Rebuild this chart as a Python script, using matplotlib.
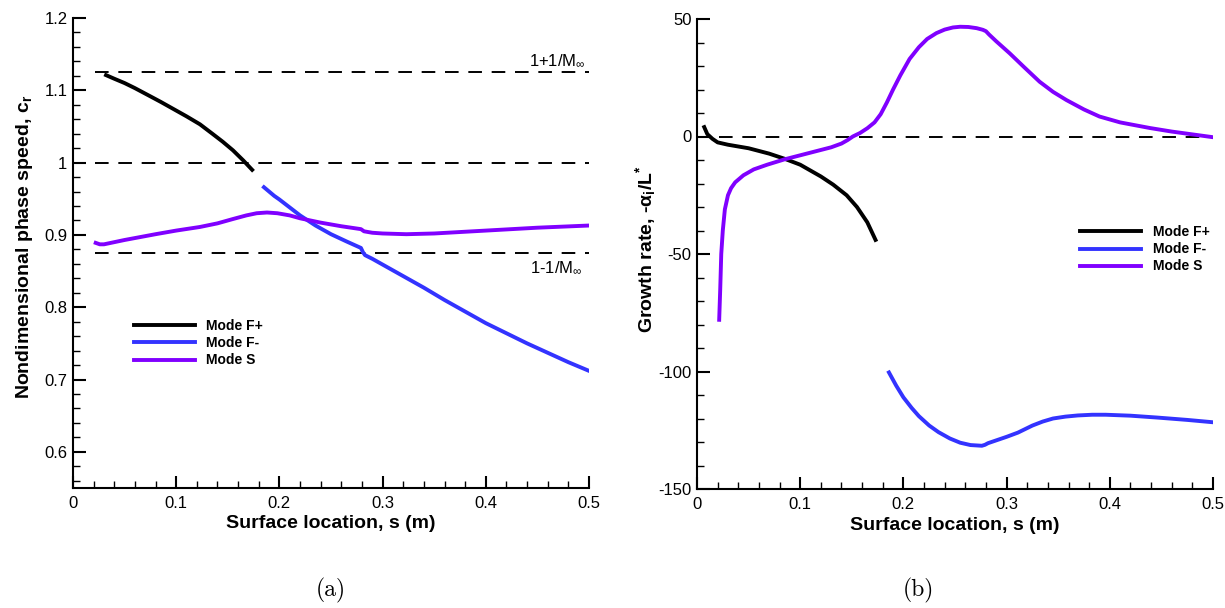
import matplotlib
matplotlib.use("Agg")
import matplotlib.pyplot as plt
from matplotlib.ticker import MultipleLocator, FuncFormatter

plt.rcParams['font.family'] = ['Liberation Sans', 'DejaVu Sans']
plt.rcParams['mathtext.fontset'] = 'custom'
plt.rcParams['mathtext.rm'] = 'Liberation Sans'
plt.rcParams['mathtext.it'] = 'Liberation Sans:italic'
plt.rcParams['mathtext.bf'] = 'Liberation Sans:bold'

# (a) phase speed
fp_s = [0.032, 0.04, 0.05, 0.06, 0.0745, 0.085, 0.1, 0.11, 0.123, 0.135, 0.145, 0.155, 0.165, 0.1736]
fp_c = [1.121, 1.116, 1.110, 1.103, 1.092, 1.084, 1.072, 1.064, 1.053, 1.040, 1.029, 1.017, 1.003, 0.990]

fm_s = [0.185, 0.19, 0.195, 0.2, 0.21, 0.22, 0.235, 0.25, 0.265, 0.279, 0.281, 0.283, 0.29, 0.3,
        0.32, 0.34, 0.36, 0.38, 0.4, 0.42, 0.44, 0.46, 0.48, 0.5]
fm_c = [0.966, 0.960, 0.954, 0.949, 0.938, 0.927, 0.913, 0.901, 0.891, 0.882, 0.876, 0.872, 0.867, 0.859,
        0.843, 0.827, 0.810, 0.794, 0.778, 0.764, 0.750, 0.737, 0.724, 0.712]

sa_s = [0.022, 0.026, 0.03, 0.05, 0.08, 0.1, 0.123, 0.14, 0.155, 0.168, 0.178, 0.188, 0.198, 0.21, 0.22,
        0.24, 0.26, 0.279, 0.282, 0.29, 0.30, 0.323, 0.35, 0.4, 0.45, 0.5]
sa_c = [0.889, 0.887, 0.887, 0.893, 0.901, 0.906, 0.911, 0.916, 0.922, 0.927, 0.930, 0.931, 0.930, 0.927, 0.923,
        0.917, 0.912, 0.908, 0.905, 0.903, 0.902, 0.901, 0.902, 0.906, 0.910, 0.913]

ref_s = [0.021, 0.5]
ref_c = [1.125, 1.0, 0.875]

# (b) growth rate
fpg_s = [0.007, 0.01, 0.015, 0.02, 0.03, 0.05, 0.07, 0.085, 0.1, 0.12, 0.132, 0.145, 0.155, 0.165, 0.173]
fpg_g = [4.0, 1.0, -1.0, -2.5, -3.5, -5.0, -7.3, -9.5, -12.0, -17.0, -20.5, -25.0, -30.0, -36.5, -44.0]

fmg_s = [0.186, 0.193, 0.2, 0.208, 0.215, 0.225, 0.234, 0.245, 0.255, 0.265, 0.276, 0.279, 0.282, 0.29, 0.3,
         0.311, 0.325, 0.335, 0.345, 0.357, 0.369, 0.383, 0.396, 0.42, 0.446, 0.475, 0.5]
fmg_g = [-100.4, -106.0, -111.0, -115.5, -119.0, -123.0, -125.8, -128.5, -130.3, -131.3, -131.6, -131.2, -130.5, -129.3, -127.8,
         -126.0, -123.0, -121.3, -120.0, -119.2, -118.7, -118.4, -118.4, -118.8, -119.6, -120.6, -121.6]

sg_s = [0.0215, 0.0225, 0.0235, 0.025, 0.027, 0.03, 0.033, 0.037, 0.045, 0.055, 0.068, 0.085, 0.1, 0.115, 0.13, 0.14, 0.146,
        0.151, 0.158, 0.165, 0.172, 0.178, 0.184, 0.19, 0.197, 0.206, 0.215, 0.223, 0.232, 0.24, 0.248, 0.255, 0.263, 0.271,
        0.277, 0.28, 0.283, 0.29, 0.303, 0.317, 0.332, 0.345, 0.358, 0.375, 0.39, 0.41, 0.439, 0.46, 0.48, 0.5]
sg_g = [-78.0, -65.0, -50.0, -40.0, -31.0, -25.0, -22.0, -19.5, -16.5, -14.0, -12.0, -9.7, -8.0, -6.3, -4.6, -3.0, -1.5,
        0.0, 1.5, 3.5, 6.0, 9.5, 14.5, 20.0, 26.0, 33.0, 38.0, 41.5, 44.0, 45.5, 46.4, 46.7, 46.6, 46.1,
        45.4, 44.8, 43.4, 40.5, 35.4, 29.5, 23.3, 19.0, 15.5, 11.5, 8.5, 6.0, 3.6, 2.1, 0.9, -0.3]

labels = ['Mode F+', 'Mode F-', 'Mode S']
colors = ['black', '#3333ff', '#8000ff']

fig = plt.figure(figsize=(12.25, 6.08), dpi=100)
ax1 = fig.add_axes([73 / 1225, 1 - 488 / 608, 516 / 1225, 470 / 608])
ax2 = fig.add_axes([697 / 1225, 1 - 489 / 608, 516 / 1225, 470 / 608])

lw = 2.8
fmt = FuncFormatter(lambda v, p: '%g' % v)

for c in ref_c:
    ax1.plot(ref_s, [c, c], color='black', lw=1.4, dashes=(7, 5))
ax1.plot(fp_s, fp_c, color=colors[0], lw=lw, label=labels[0])
ax1.plot(fm_s, fm_c, color=colors[1], lw=lw, label=labels[1])
ax1.plot(sa_s, sa_c, color=colors[2], lw=lw, label=labels[2])
ax1.text(0.497, 1.13, r'1+1/M$_\infty$', ha='right', va='bottom', fontsize=12)
ax1.text(0.494, 0.866, r'1-1/M$_\infty$', ha='right', va='top', fontsize=12)
ax1.set_xlim(0, 0.5)
ax1.set_ylim(0.55, 1.2)
ax1.yaxis.set_major_locator(MultipleLocator(0.1))
ax1.yaxis.set_minor_locator(MultipleLocator(0.02))
ax1.set_ylabel(r'Nondimensional phase speed, c$_\mathbf{r}$', fontsize=14, fontweight='bold')
ax1.yaxis.set_label_coords(-0.074, 0.513)
ax1.legend(loc='upper left', bbox_to_anchor=(0.118, 0.359), frameon=False, borderpad=0, borderaxespad=0,
           handlelength=4.4, handletextpad=0.8, labelspacing=0.22, prop={'weight': 'bold', 'size': 10})

ax2.plot(ref_s, [0, 0], color='black', lw=1.4, dashes=(7, 5))
ax2.plot(fpg_s, fpg_g, color=colors[0], lw=lw, label=labels[0])
ax2.plot(fmg_s, fmg_g, color=colors[1], lw=lw, label=labels[1])
ax2.plot(sg_s, sg_g, color=colors[2], lw=lw, label=labels[2])
ax2.set_xlim(0, 0.5)
ax2.set_ylim(-150, 50)
ax2.yaxis.set_major_locator(MultipleLocator(50))
ax2.yaxis.set_minor_locator(MultipleLocator(10))
ax2.set_ylabel(r'Growth rate, -$\mathbf{\alpha_i}$/L$^\mathbf{*}$', fontsize=14, fontweight='bold')
ax2.yaxis.set_label_coords(-0.076, 0.51)
ax2.legend(loc='upper left', bbox_to_anchor=(0.743, 0.561), frameon=False, borderpad=0, borderaxespad=0,
           handlelength=4.4, handletextpad=0.8, labelspacing=0.22, prop={'weight': 'bold', 'size': 10})

for ax in (ax1, ax2):
    ax.xaxis.set_major_locator(MultipleLocator(0.1))
    ax.xaxis.set_minor_locator(MultipleLocator(0.02))
    ax.xaxis.set_major_formatter(fmt)
    ax.yaxis.set_major_formatter(fmt)
    ax.spines['top'].set_visible(False)
    ax.spines['right'].set_visible(False)
    ax.spines['left'].set_linewidth(1.5)
    ax.spines['bottom'].set_linewidth(1.5)
    ax.tick_params(which='major', direction='in', length=9, width=1.5, labelsize=12, pad=4)
    ax.tick_params(axis='x', which='major', pad=6)
    ax.tick_params(which='minor', direction='in', length=5, width=1.0)
    ax.set_xlabel('Surface location, s (m)', fontsize=14, fontweight='bold', labelpad=3)

fig.text(331 / 1225, 1 - 590 / 608, '(a)', family='cmr10', fontsize=17, ha='center', va='center')
fig.text(918 / 1225, 1 - 590 / 608, '(b)', family='cmr10', fontsize=17, ha='center', va='center')

fig.savefig('out.png', dpi=100)
